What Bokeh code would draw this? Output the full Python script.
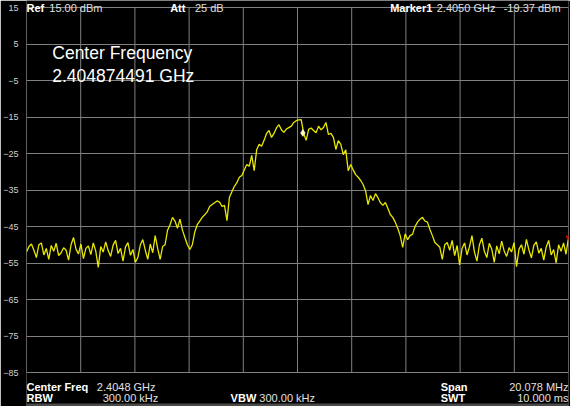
import numpy as np
from bokeh.plotting import figure
from bokeh.models import Range1d, FixedTicker, ColumnDataSource
from bokeh.core.properties import value
from bokeh.embed import file_html
from bokeh.resources import INLINE

# ---- instrument settings ----
center_ghz = 2.4048
span_mhz = 20.078
ref_level = 15
db_per_div = 10
n_div = 10
y_ticks = [15, 5, -5, -15, -25, -35, -45, -55, -65, -75, -85]
marker_freq_ghz = 2.4050
marker_level = -19.37

# ---- trace values (dBm), left to right ----
floor_left = [
    -52.0, -50.5, -49.8, -51.5, -53.5, -50.0, -49.5, -52.8, -51.0, -54.0,
    -50.2, -51.8, -49.6, -53.0, -52.2, -50.8, -51.5, -54.2, -50.0, -48.0,
    -51.2, -52.5, -49.8, -53.8, -51.0, -50.3, -52.7, -49.5, -51.8, -56.2,
    -50.5, -52.0, -49.2, -51.6, -53.2, -50.1, -48.8, -52.4, -51.0, -54.5,
    -50.6, -49.4, -52.9, -51.3, -54.8, -53.5, -50.0, -48.6, -51.5, -54.0,
    -49.8, -52.2, -47.5, -51.0, -54.0, -50.5,
]
signal = [
    -50.0, -46.0, -44.5, -42.5, -43.5, -45.5, -43.0, -46.0, -48.0, -50.0,
    -51.3, -50.0, -46.5, -44.5, -43.5, -42.5, -41.8, -41.0, -39.5, -39.0,
    -38.5, -38.0, -38.3, -39.5, -39.2, -43.4, -37.0, -35.5, -34.0, -33.0,
    -31.5, -31.0, -29.5, -28.0, -28.5, -25.5, -29.7, -24.0, -22.5, -23.0,
    -21.4, -19.5, -18.7, -20.6, -19.5, -18.0, -17.1, -18.5, -19.2, -18.3,
    -17.9, -17.5, -16.5, -16.0, -15.8, -15.7, -19.5, -21.4, -18.4, -18.0,
    -18.7, -19.3, -17.5, -18.5, -17.9, -16.5, -19.8, -19.5, -20.6, -23.9,
    -21.5, -22.5, -25.3, -24.0, -29.7, -28.0, -29.5, -30.8, -31.5, -32.4,
    -33.5, -35.2, -39.0, -36.5, -37.9, -36.0, -37.1, -38.5, -39.2, -38.4,
    -40.0, -41.7, -42.5, -43.8, -45.5, -47.5, -50.7, -47.0, -48.6, -47.5,
    -47.1, -45.0, -43.8, -43.0, -42.5, -43.5, -43.8, -45.8, -47.5, -49.4,
    -50.0, -50.7, -54.0, -50.0, -49.4,
]
floor_right = [
    -51.5, -48.8, -53.0, -50.2, -55.5, -51.0, -49.5, -52.8, -50.5, -47.5,
    -52.0, -54.5, -50.0, -48.2, -51.8, -53.5, -49.6, -51.2, -54.8, -50.3,
    -52.5, -49.0, -51.7, -53.2, -50.8, -52.0, -49.4, -56.0, -51.2, -50.0,
    -52.6, -48.5, -51.4, -53.6, -50.2, -49.2, -52.3, -51.0, -54.2, -50.6,
    -48.8, -52.8, -51.3, -55.0, -50.0, -51.8, -49.5, -52.6, -48.0,
]
trace = floor_left + signal + floor_right

# ---- readout texts ----
top_keys = ["Ref", "Att", "Marker1"]
top_vals = ["15.00 dBm", "25 dB", "2.4050 GHz", "-19.37 dBm"]
bottom_keys = ["Center Freq", "Span", "RBW", "VBW", "SWT"]
bottom_vals = ["2.4048 GHz", "20.078 MHz", "300.00 kHz", "300.00 kHz", "10.000 ms"]
note_lines = ["Center Frequency", "2.404874491 GHz"]

span_ghz = span_mhz / 1000.0
f_start = center_ghz - span_ghz / 2
f_stop = center_ghz + span_ghz / 2
freqs = np.linspace(f_start, f_stop, len(trace))
bottom_level = ref_level - n_div * db_per_div
v_lines = list(np.linspace(f_start, f_stop, n_div + 1))

# ---- geometry (page pixels) ----
W, H = 570, 406
BL, BR = 21, 2
FX0, FX1 = 8 + BL, 8 + W - BR      # frame x extent on the page
GY0, GY1 = 15, 380                 # graticule y extent on the page
PX_PER_DB = (GY1 - GY0) / (ref_level - bottom_level)
PX_PER_GHZ = (FX1 - FX0) / span_ghz


def X(px):
    return f_start + (px - FX0) / PX_PER_GHZ


def Y(py):
    return ref_level - (py - GY0) / PX_PER_DB


p = figure(width=W, height=H, output_backend="svg", toolbar_location=None,
           x_range=Range1d(f_start, f_stop), y_range=Range1d(Y(8 + H), Y(8)),
           min_border_left=BL, min_border_right=BR, min_border_top=0,
           min_border_bottom=0)
p.background_fill_color = "black"
p.border_fill_color = "black"
p.outline_line_color = None

p.xaxis.visible = False
p.xgrid.visible = False

p.yaxis.ticker = FixedTicker(ticks=y_ticks)
p.yaxis.axis_line_color = None
p.yaxis.major_tick_line_color = None
p.yaxis.minor_tick_line_color = None
p.yaxis.major_label_standoff = 2
p.yaxis.major_label_text_font = "Liberation Sans"
p.yaxis.major_label_text_font_size = "9px"
p.yaxis.major_label_text_color = "#d0d0d0"
p.ygrid.ticker = FixedTicker(ticks=y_ticks)
p.ygrid.grid_line_color = "#808080"
p.ygrid.grid_line_width = 1

# vertical graticule lines (frequency divisions)
p.segment(x0=v_lines, y0=[bottom_level] * len(v_lines), x1=v_lines,
          y1=[ref_level] * len(v_lines), line_color="#808080", line_width=1)

# thin status strip at the bottom of the screen
p.quad(left=[X(FX0)], right=[X(FX1)], bottom=[Y(414)], top=[Y(411)],
       fill_color="#4a4a4a", line_color=None)

# trace and markers
p.line(freqs, trace, line_color="#e8e800", line_width=1.3)
p.scatter([marker_freq_ghz], [marker_level], marker="diamond", size=7,
          fill_color="#ffffb0", line_color="#ffffff", line_width=0.5)
p.scatter([freqs[-1]], [trace[-1]], marker="inverted_triangle", size=5,
          fill_color="#d00000", line_color="#d00000")

FONT = value("Liberation Sans")


def texts(items, bold, color, size, align):
    src = ColumnDataSource(dict(x=[X(a) for a, b, t in items],
                                y=[Y(b) for a, b, t in items],
                                t=[t for a, b, t in items]))
    p.text(x="x", y="y", text="t", source=src, text_font=FONT,
           text_font_size=size, text_color=color,
           text_font_style="bold" if bold else "normal",
           text_align=align, text_baseline="alphabetic")


# labels (bold, white)
texts([(29, 15, top_keys[0]), (174, 15, top_keys[1]), (396, 15, top_keys[2]),
       (29, 394, bottom_keys[0]), (447, 394, bottom_keys[1]),
       (29, 405.5, bottom_keys[2]), (235, 405.5, bottom_keys[3]),
       (447, 405.5, bottom_keys[4])],
      True, "#ffffff", "11px", "left")
# values, left aligned
texts([(52, 15, top_vals[0]), (199, 15, top_vals[1]), (443, 15, top_vals[2]),
       (100, 394, bottom_vals[0]), (264, 405.5, bottom_vals[3])],
      False, "#e0e0e0", "11px", "left")
# values, right aligned
texts([(568, 15, top_vals[3]), (576, 394, bottom_vals[1]),
       (162, 405.5, bottom_vals[2]), (576, 405.5, bottom_vals[4])],
      False, "#e0e0e0", "11px", "right")
# big note
texts([(55, 60.5, note_lines[0]), (55, 83, note_lines[1])],
      False, "#ffffff", "17.5px", "left")

open("out.html", "w").write(file_html(p, INLINE))
